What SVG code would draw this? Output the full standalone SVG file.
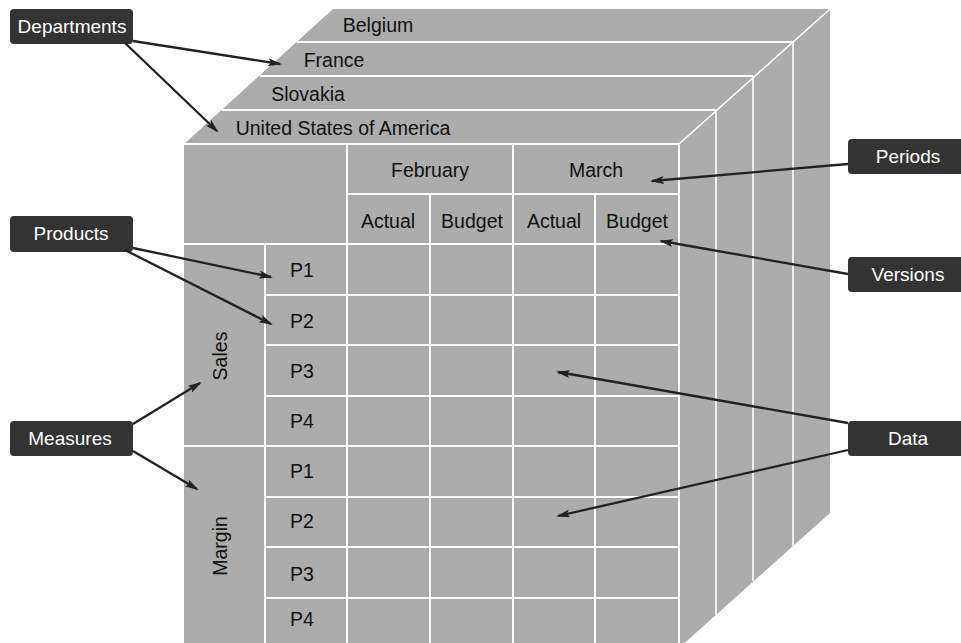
<svg xmlns="http://www.w3.org/2000/svg" width="961" height="643" viewBox="0 0 961 643">
  <style>
    .face { fill: #acacac; }
    .grid { stroke: #ffffff; stroke-width: 2; fill: none; }
    .thin { stroke: #ffffff; stroke-width: 1.6; fill: none; }
    .t { font-family: "Liberation Sans", Arial, sans-serif; font-size: 19.5px; fill: #111111; text-anchor: middle; }
    .lbl rect { fill: #333333; }
    .lbl text { font-family: "Liberation Sans", Arial, sans-serif; font-size: 19px; fill: #ffffff; text-anchor: middle; }
    .conn line { stroke: #222222; stroke-width: 2.3; marker-end: url(#ah); }
  </style>
  <defs>
    <marker id="ah" viewBox="0 0 14 8" refX="12" refY="4" markerWidth="14" markerHeight="8" orient="auto" markerUnits="userSpaceOnUse">
      <path d="M0,0 L14,4 L0,8 L3,4 z" fill="#222222"/>
    </marker>
  </defs>

  <rect width="961" height="643" fill="#ffffff"/>

  <!-- cube faces -->
  <g id="cube">
    <polygon class="face" points="184,144 333,9 830,9 679,144"/>
    <polygon class="face" points="679,144 830,9 830,513 679,648"/>
    <rect class="face" x="184" y="144" width="495" height="504"/>

    <!-- department slabs on top -->
    <line class="grid" x1="297" y1="42" x2="793" y2="42"/>
    <line class="grid" x1="260" y1="76" x2="753" y2="76"/>
    <line class="grid" x1="222" y1="110" x2="716" y2="110"/>
    <line class="grid" x1="184" y1="144" x2="679" y2="144"/>
    <line class="thin" x1="830" y1="9" x2="679" y2="144"/>

    <!-- slab edges on right side -->
    <line class="thin" x1="793" y1="42" x2="793" y2="546"/>
    <line class="thin" x1="753" y1="76" x2="753" y2="581"/>
    <line class="thin" x1="716" y1="110" x2="716" y2="615"/>
    <line class="grid" x1="679" y1="144" x2="679" y2="648"/>

    <!-- front grid -->
    <line class="grid" x1="347" y1="144" x2="347" y2="648"/>
    <line class="grid" x1="513" y1="144" x2="513" y2="648"/>
    <line class="grid" x1="430" y1="194" x2="430" y2="648"/>
    <line class="grid" x1="595" y1="194" x2="595" y2="648"/>
    <line class="grid" x1="347" y1="194" x2="679" y2="194"/>
    <line class="grid" x1="184" y1="244" x2="679" y2="244"/>
    <line class="grid" x1="265" y1="244" x2="265" y2="648"/>
    <line class="grid" x1="265" y1="295" x2="679" y2="295"/>
    <line class="grid" x1="265" y1="345" x2="679" y2="345"/>
    <line class="grid" x1="265" y1="396" x2="679" y2="396"/>
    <line class="grid" x1="184" y1="446" x2="679" y2="446"/>
    <line class="grid" x1="265" y1="497" x2="679" y2="497"/>
    <line class="grid" x1="265" y1="547" x2="679" y2="547"/>
    <line class="grid" x1="265" y1="598" x2="679" y2="598"/>

    <!-- department names -->
    <text class="t" x="378" y="32">Belgium</text>
    <text class="t" x="334" y="67">France</text>
    <text class="t" x="308" y="101">Slovakia</text>
    <text class="t" x="343" y="135">United States of America</text>

    <!-- period / version headers -->
    <text class="t" x="430" y="177">February</text>
    <text class="t" x="596" y="177">March</text>
    <text class="t" x="388" y="228">Actual</text>
    <text class="t" x="472" y="228">Budget</text>
    <text class="t" x="554" y="228">Actual</text>
    <text class="t" x="637" y="228">Budget</text>

    <!-- measures -->
    <text class="t" transform="translate(227,356) rotate(-90)">Sales</text>
    <text class="t" transform="translate(227,546) rotate(-90)">Margin</text>

    <!-- products -->
    <text class="t" x="302" y="277">P1</text>
    <text class="t" x="302" y="328">P2</text>
    <text class="t" x="302" y="378">P3</text>
    <text class="t" x="302" y="428">P4</text>
    <text class="t" x="302" y="478">P1</text>
    <text class="t" x="302" y="528">P2</text>
    <text class="t" x="302" y="581">P3</text>
    <text class="t" x="302" y="626">P4</text>
  </g>

  <!-- callout labels -->
  <g id="departments" class="lbl">
    <rect x="10" y="9" width="123" height="35" rx="4"/>
    <text x="72" y="33">Departments</text>
  </g>
  <g id="products" class="lbl">
    <rect x="10" y="216" width="123" height="36" rx="4"/>
    <text x="71" y="240">Products</text>
  </g>
  <g id="measures" class="lbl">
    <rect x="10" y="421" width="123" height="35" rx="4"/>
    <text x="70" y="445">Measures</text>
  </g>
  <g id="periods" class="lbl">
    <rect x="848" y="139" width="120" height="35" rx="4"/>
    <text x="908" y="163">Periods</text>
  </g>
  <g id="versions" class="lbl">
    <rect x="848" y="257" width="120" height="35" rx="4"/>
    <text x="908" y="281">Versions</text>
  </g>
  <g id="data" class="lbl">
    <rect x="848" y="421" width="120" height="35" rx="4"/>
    <text x="908" y="445">Data</text>
  </g>

  <!-- connectors -->
  <g id="connectors" class="conn">
    <line x1="133" y1="41" x2="280" y2="64"/>
    <line x1="125" y1="43" x2="217" y2="131"/>
    <line x1="133" y1="248" x2="271" y2="277"/>
    <line x1="125" y1="250" x2="271" y2="324"/>
    <line x1="133" y1="424" x2="200" y2="383"/>
    <line x1="133" y1="451" x2="197" y2="489"/>
    <line x1="848" y1="164" x2="652" y2="181"/>
    <line x1="848" y1="274" x2="661" y2="241"/>
    <line x1="848" y1="423" x2="558" y2="372"/>
    <line x1="848" y1="450" x2="558" y2="516"/>
  </g>
</svg>
